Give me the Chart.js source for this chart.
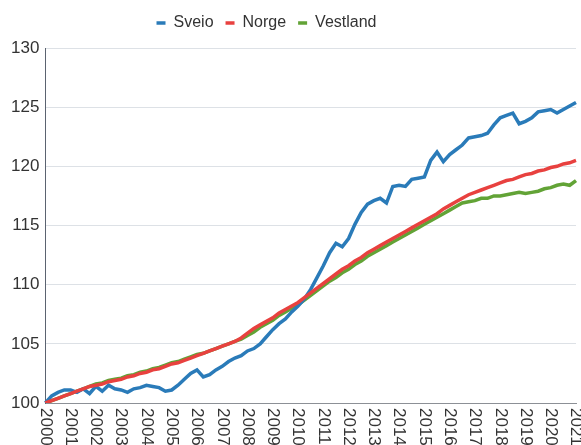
<!DOCTYPE html>
<html>
<head>
<meta charset="utf-8">
<script src="https://cdn.jsdelivr.net/npm/chart.js@4/dist/chart.umd.min.js"></script>
<style>
html,body{margin:0;padding:0;background:#fff}
#wrap{width:581px;height:445px;position:relative}
</style>
</head>
<body>
<div id="wrap"><canvas id="c"></canvas></div>
<script>
// year labels on the x axis (one per Q1)
var years=[2000,2001,2002,2003,2004,2005,2006,2007,2008,2009,2010,2011,2012,2013,2014,2015,2016,2017,2018,2019,2020,2021];
// quarterly index, 2000K1 = 100
var sveio=[
 100.0,100.6,100.9,101.1, 101.1,100.9,101.2,100.8, 101.4,101.0,101.5,101.2, 101.1,100.9,101.2,101.3,
 101.5,101.4,101.3,101.0, 101.1,101.5,102.0,102.5, 102.8,102.2,102.4,102.8, 103.1,103.5,103.8,104.0,
 104.4,104.6,105.0,105.6, 106.2,106.7,107.1,107.7, 108.2,108.8,109.6,110.6, 111.6,112.7,113.5,113.2,
 113.9,115.1,116.1,116.8, 117.1,117.3,116.9,118.3, 118.4,118.3,118.9,119.0, 119.1,120.5,121.2,120.4,
 121.0,121.4,121.8,122.4, 122.5,122.6,122.8,123.5, 124.1,124.3,124.5,123.6, 123.8,124.1,124.6,124.7,
 124.8,124.5,124.8,125.1, 125.4];
var norge=[
 100.0,100.2,100.4,100.6, 100.8,101.0,101.2,101.4, 101.5,101.6,101.8,101.9, 102.0,102.2,102.3,102.5,
 102.6,102.8,102.9,103.1, 103.3,103.4,103.6,103.8, 104.0,104.2,104.4,104.6, 104.8,105.0,105.2,105.5,
 105.9,106.3,106.6,106.9, 107.2,107.6,107.9,108.2, 108.5,108.9,109.3,109.7, 110.1,110.5,110.9,111.3,
 111.6,112.0,112.3,112.7, 113.0,113.3,113.6,113.9, 114.2,114.5,114.8,115.1, 115.4,115.7,116.0,116.4,
 116.7,117.0,117.3,117.6, 117.8,118.0,118.2,118.4, 118.6,118.8,118.9,119.1, 119.3,119.4,119.6,119.7,
 119.9,120.0,120.2,120.3, 120.5];
var vestland=[
 100.0,100.2,100.4,100.6, 100.8,101.0,101.2,101.4, 101.6,101.7,101.9,102.0, 102.1,102.3,102.4,102.6,
 102.7,102.9,103.0,103.2, 103.4,103.5,103.7,103.9, 104.1,104.2,104.4,104.6, 104.8,105.0,105.2,105.4,
 105.7,106.0,106.4,106.7, 107.0,107.4,107.7,108.0, 108.3,108.7,109.1,109.5, 109.9,110.3,110.6,111.0,
 111.3,111.7,112.0,112.4, 112.7,113.0,113.3,113.6, 113.9,114.2,114.5,114.8, 115.1,115.4,115.7,116.0,
 116.3,116.6,116.9,117.0, 117.1,117.3,117.3,117.5, 117.5,117.6,117.7,117.8, 117.7,117.8,117.9,118.1,
 118.2,118.4,118.5,118.4, 118.8];
var quarters=[];
years.forEach(function(y){for(var q=1;q<=4;q++)quarters.push(y+'K'+q);});
quarters=quarters.slice(0,sveio.length);

var FONT='"Liberation Sans", Arial, sans-serif';
Chart.defaults.font.family=FONT;
Chart.defaults.color='#333';

// x tick labels read top-to-bottom, which chart.js can't rotate to, so draw them here
var yearTicks={id:'yearTicks',afterDraw:function(ch){
  var sc=ch.scales.x,ctx=ch.ctx;
  ctx.save();
  ctx.fillStyle='#333';ctx.font='17px '+FONT;ctx.textAlign='left';ctx.textBaseline='middle';
  years.forEach(function(y,i){
    var px=sc.getPixelForValue(i*4);
    ctx.save();ctx.translate(px,sc.top+5);ctx.rotate(Math.PI/2);ctx.fillText(String(y),0,0);ctx.restore();
  });
  ctx.restore();
}};
// a bit more room under the legend, and nudge it left like the original
var legendTweak={id:'legendTweak',
  beforeInit:function(ch){
    var lg=ch.legend;if(!lg)return;
    var fit=lg.fit;
    lg.fit=function(){fit.apply(this,arguments);this.height+=7;};
  },
  afterLayout:function(ch){
    var lg=ch.legend;if(!lg)return;
    lg.left-=24;lg.right-=24;
  }
};

function ds(label,data,color,order){
  return {label:label,data:data,borderColor:color,backgroundColor:color,borderWidth:3.5,pointRadius:0,tension:0,order:order};
}

new Chart(document.getElementById('c').getContext('2d'),{
  type:'line',
  data:{labels:quarters,datasets:[
    ds('Sveio',sveio,'#2a7bb9',1),
    ds('Norge',norge,'#e8413f',0),
    ds('Vestland',vestland,'#62a336',2)
  ]},
  options:{
    responsive:true,maintainAspectRatio:false,animation:false,
    layout:{padding:{top:3,left:5,right:5,bottom:34}},
    plugins:{
      tooltip:{enabled:false},
      legend:{position:'top',labels:{font:{size:16},color:'#333',usePointStyle:true,pointStyle:'line',pointStyleWidth:9,padding:12,
        sort:function(a,b){return a.datasetIndex-b.datasetIndex;}}}
    },
    scales:{
      x:{type:'category',offset:false,grid:{display:false},border:{display:true,color:'#8c9096',width:1},ticks:{display:false}},
      y:{min:100,max:130,grid:{color:'#dde1e6',drawTicks:false},border:{display:true,color:'#5b6370',width:1},
        ticks:{stepSize:5,padding:6,font:{size:17},color:'#333'}}
    }
  },
  plugins:[yearTicks,legendTweak]
});
</script>
</body>
</html>
